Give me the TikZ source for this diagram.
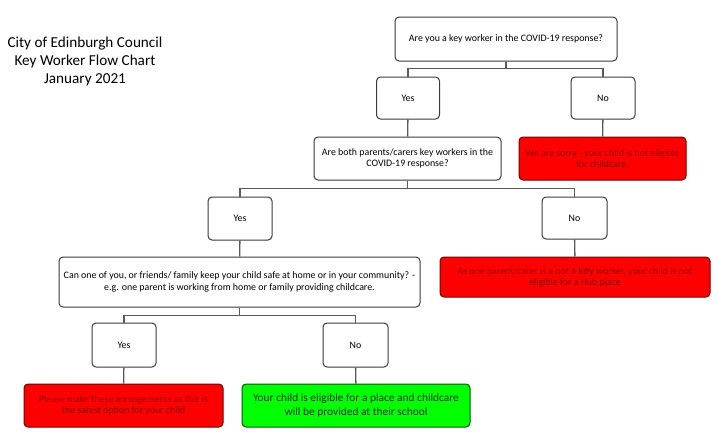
\documentclass[tikz,border=0pt]{standalone}
\usepackage{fontspec}
\setmainfont{Carlito}
\definecolor{boxline}{HTML}{3A3A3A}
\definecolor{linkgrey}{HTML}{5A5A5A}
\definecolor{darkred}{HTML}{8C0000}
\definecolor{darkgreen}{HTML}{0A3A0A}
\tikzset{
  box/.style={draw=boxline,line width=1pt,rounded corners=4pt,fill=white,
    align=center,inner sep=0pt,font=\fontsize{9.9}{11.5}\selectfont},
  redbox/.style={box,draw=red!45!black,fill=red,text=darkred},
  greenbox/.style={box,draw=green!35!black,fill=green,text=darkgreen,
    font=\fontsize{11.4}{13.5}\selectfont},
  link/.style={draw=linkgrey,line width=1.4pt}
}
\begin{document}
\begin{tikzpicture}[x=1pt,y=-1pt]
        \useasboundingbox (0,0) rectangle (718,442);
        % title
        \node[align=center,font=\fontsize{15.2}{18}\selectfont] (title) at (85,61)
          {City of Edinburgh Council\\Key Worker Flow Chart\\January 2021};
        % first question
        \node[box,minimum width=222pt,minimum height=44pt] (q1) at (506,39)
          {Are you a key worker in the COVID-19 response?};
        \node[box,minimum width=63pt,minimum height=42pt] (yes1) at (408,98) {Yes};
        \node[box,minimum width=64pt,minimum height=42pt] (no1) at (603,98) {No};
        \node[box,minimum width=187pt,minimum height=43pt] (q2) at (407.5,158.5)
          {Are both parents/carers key workers in the\\COVID-19 response?};
        \node[redbox,minimum width=167pt,minimum height=43pt] (sorry) at (602.5,158.5)
          {We are sorry - your child is not eligible\\for childcare.};
        % second question
        \node[box,minimum width=64pt,minimum height=43pt] (yes2) at (240,218.5) {Yes};
        \node[box,minimum width=65pt,minimum height=42pt] (no2) at (574.5,218) {No};
        \node[box,minimum width=361pt,minimum height=50pt,
          font=\fontsize{9.9}{12}\selectfont] (q3) at (239.5,282)
          {Can one of you, or friends/ family keep your child safe at home or in your community? -\\e.g. one parent is working from home or family providing childcare.};
        \node[redbox,minimum width=270pt,minimum height=40pt] (hub) at (575,277)
          {As one parent/carer is a not a {\fontsize{11.5}{11.5}\selectfont key} worker, your child is not\\eligible for a Hub place};
        % third question
        \node[box,minimum width=64pt,minimum height=44pt] (yes3) at (124,345) {Yes};
        \node[box,minimum width=65pt,minimum height=44pt] (no3) at (355.5,345) {No};
        \node[redbox,minimum width=199pt,minimum height=43pt] (safe) at (123.5,405.5)
          {Please make these arrangements as this is\\the safest option for your child};
        \node[greenbox,minimum width=228pt,minimum height=43pt] (school) at (356,405.5)
          {Your child is eligible for a place and childcare\\will be provided at their school};
        % connectors
        \draw[link] (q1.south) -- ++(0,7) -| (yes1.north);
        \draw[link] (q1.south) -- ++(0,7) -| (no1.north);
        \draw[link] (yes1) -- (q2);
        \draw[link] (no1) -- (sorry);
        \draw[link] (q2.south) -- ++(0,8) -| (yes2.north);
        \draw[link] (q2.south) -- ++(0,8) -| (no2.north);
        \draw[link] (yes2) -- (q3);
        \draw[link] (no2) -- (hub);
        \draw[link] (q3.south) -- ++(0,8) -| (yes3.north);
        \draw[link] (q3.south) -- ++(0,8) -| (no3.north);
        \draw[link] (yes3) -- (safe);
        \draw[link] (no3) -- (school);
      \end{tikzpicture}
\end{document}
